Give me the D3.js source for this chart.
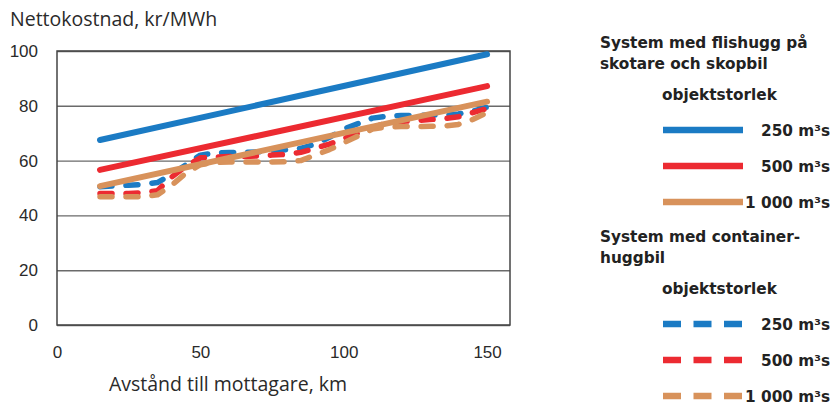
<!DOCTYPE html>
<html>
<head>
<meta charset="utf-8">
<script src="https://cdn.jsdelivr.net/npm/d3@7"></script>
<style>
  body { margin: 0; background: #fff; }
  svg { font-family: "Open Sans", sans-serif; }
</style>
</head>
<body>
<div id="chart"></div>
<script>
// solid lines: system med flishugg på skotare och skopbil
var solidDist = [15, 150];
var solid250 = [67.5, 98.8];
var solid500 = [56.6, 87.2];
var solid1000 = [50.7, 81.5];

// dashed lines: system med containerhuggbil
var dashDist = [15, 20, 25, 30, 35, 40, 45, 50, 55, 60, 65, 70, 75, 80, 85, 90, 95, 100, 105, 110, 115, 120, 125, 130, 135, 140, 145, 150];
var dash250 = [50.5, 50.8, 51, 51.3, 52, 55, 58.5, 62, 62.8, 63, 63, 63.2, 63.5, 64, 64.5, 66, 68.5, 71.5, 73.5, 75.5, 76.2, 76.5, 76.5, 76.6, 76.6, 77, 78, 79.5];
var dash500 = [48, 48, 48, 48.3, 49, 54, 58, 61, 61.3, 61.5, 61.5, 61.7, 62, 62.3, 63, 64.5, 66, 68, 70, 72, 73.8, 74.3, 74.6, 75, 75.3, 76, 77.5, 79];
var dash1000 = [46.8, 46.8, 46.8, 46.8, 47.5, 51, 55.5, 58.5, 59.3, 59.5, 59.5, 59.5, 59.5, 59.6, 60, 62, 64, 66.5, 69, 71.5, 72.3, 72.4, 72.4, 72.5, 72.6, 73.2, 75, 77.5];

var xTicks = [0, 50, 100, 150];
var yTicks = [0, 20, 40, 60, 80, 100];
var sizeLabels = ["250 m³s", "500 m³s", "1 000 m³s"];
var colors = ["#1b7bc4", "#ec2a31", "#d8925b"];

var margin = { top: 51, right: 323, bottom: 77, left: 57 },
    width = 833 - margin.left - margin.right,
    height = 402 - margin.top - margin.bottom;

var svg = d3.select("#chart")
    .append("svg")
        .attr("width", 833)
        .attr("height", 402);

var g = svg.append("g")
    .attr("transform", "translate(" + margin.left + "," + margin.top + ")");

var x = d3.scaleLinear().domain([0, 158]).range([0, width]);
var y = d3.scaleLinear().domain([0, 100]).range([height, 0]);

// gridlines + y labels
var yAxis = g.append("g")
    .call(d3.axisLeft(y).tickValues(yTicks).tickSize(-width).tickPadding(19));
yAxis.select(".domain").remove();
yAxis.selectAll("line").attr("stroke", "#6a6a6a").attr("stroke-width", 1.4);
yAxis.selectAll("text")
    .style("font-size", "17px")
    .attr("fill", "#2a2a2a");

var xAxis = g.append("g")
    .attr("transform", "translate(0," + height + ")")
    .call(d3.axisBottom(x).tickValues(xTicks).tickSize(0).tickPadding(21));
xAxis.select(".domain").remove();
xAxis.selectAll("text")
    .style("font-size", "17px")
    .attr("fill", "#2a2a2a");

// frame
g.append("rect")
    .attr("width", width)
    .attr("height", height)
    .attr("fill", "none")
    .attr("stroke", "#444")
    .attr("stroke-width", 1.5);

var line = d3.line()
    .x(function(d) { return x(d[0]); })
    .y(function(d) { return y(d[1]); });

var dashed = [dash250, dash500, dash1000];
dashed.forEach(function(vals, i) {
    g.append("path")
        .datum(d3.zip(dashDist, vals))
        .attr("d", line)
        .attr("fill", "none")
        .attr("stroke", colors[i])
        .attr("stroke-width", 5.5)
        .attr("stroke-linecap", "round")
        .attr("stroke-linejoin", "round")
        .attr("stroke-dasharray", "12,14");
});

var solid = [solid250, solid500, solid1000];
solid.forEach(function(vals, i) {
    g.append("path")
        .datum(d3.zip(solidDist, vals))
        .attr("d", line)
        .attr("fill", "none")
        .attr("stroke", colors[i])
        .attr("stroke-width", 6)
        .attr("stroke-linecap", "round");
});

// axis titles
svg.append("text")
    .attr("x", 10)
    .attr("y", 26)
    .style("font-size", "19.5px")
    .attr("fill", "#2a2a2a")
    .text("Nettokostnad, kr/MWh");

svg.append("text")
    .attr("x", 228)
    .attr("y", 391)
    .style("text-anchor", "middle")
    .style("font-size", "19.5px")
    .attr("fill", "#2a2a2a")
    .text("Avstånd till mottagare, km");

// legend
var leg = svg.append("g")
    .style("font-family", "'DejaVu Sans', sans-serif")
    .style("font-weight", "bold")
    .style("font-size", "15.3px")
    .attr("fill", "#222");

function legendBlock(titleLines, top, dash) {
    titleLines.forEach(function(t, i) {
        leg.append("text").attr("x", 600).attr("y", top + i * 21).text(t);
    });
    leg.append("text").attr("x", 662).attr("y", top + 52).text("objektstorlek");
    sizeLabels.forEach(function(lab, i) {
        var ly = top + 82 + i * 36;
        leg.append("line")
            .attr("x1", 663).attr("x2", 743)
            .attr("y1", ly).attr("y2", ly)
            .attr("stroke", colors[i])
            .attr("stroke-width", 6.5)
            .attr("stroke-dasharray", dash ? "18,12.5" : null);
        leg.append("text")
            .attr("x", 830)
            .attr("y", ly + 6)
            .style("text-anchor", "end")
            .text(lab);
    });
}

legendBlock(["System med flishugg på", "skotare och skopbil"], 48, false);
legendBlock(["System med container-", "huggbil"], 242, true);
</script>
</body>
</html>
